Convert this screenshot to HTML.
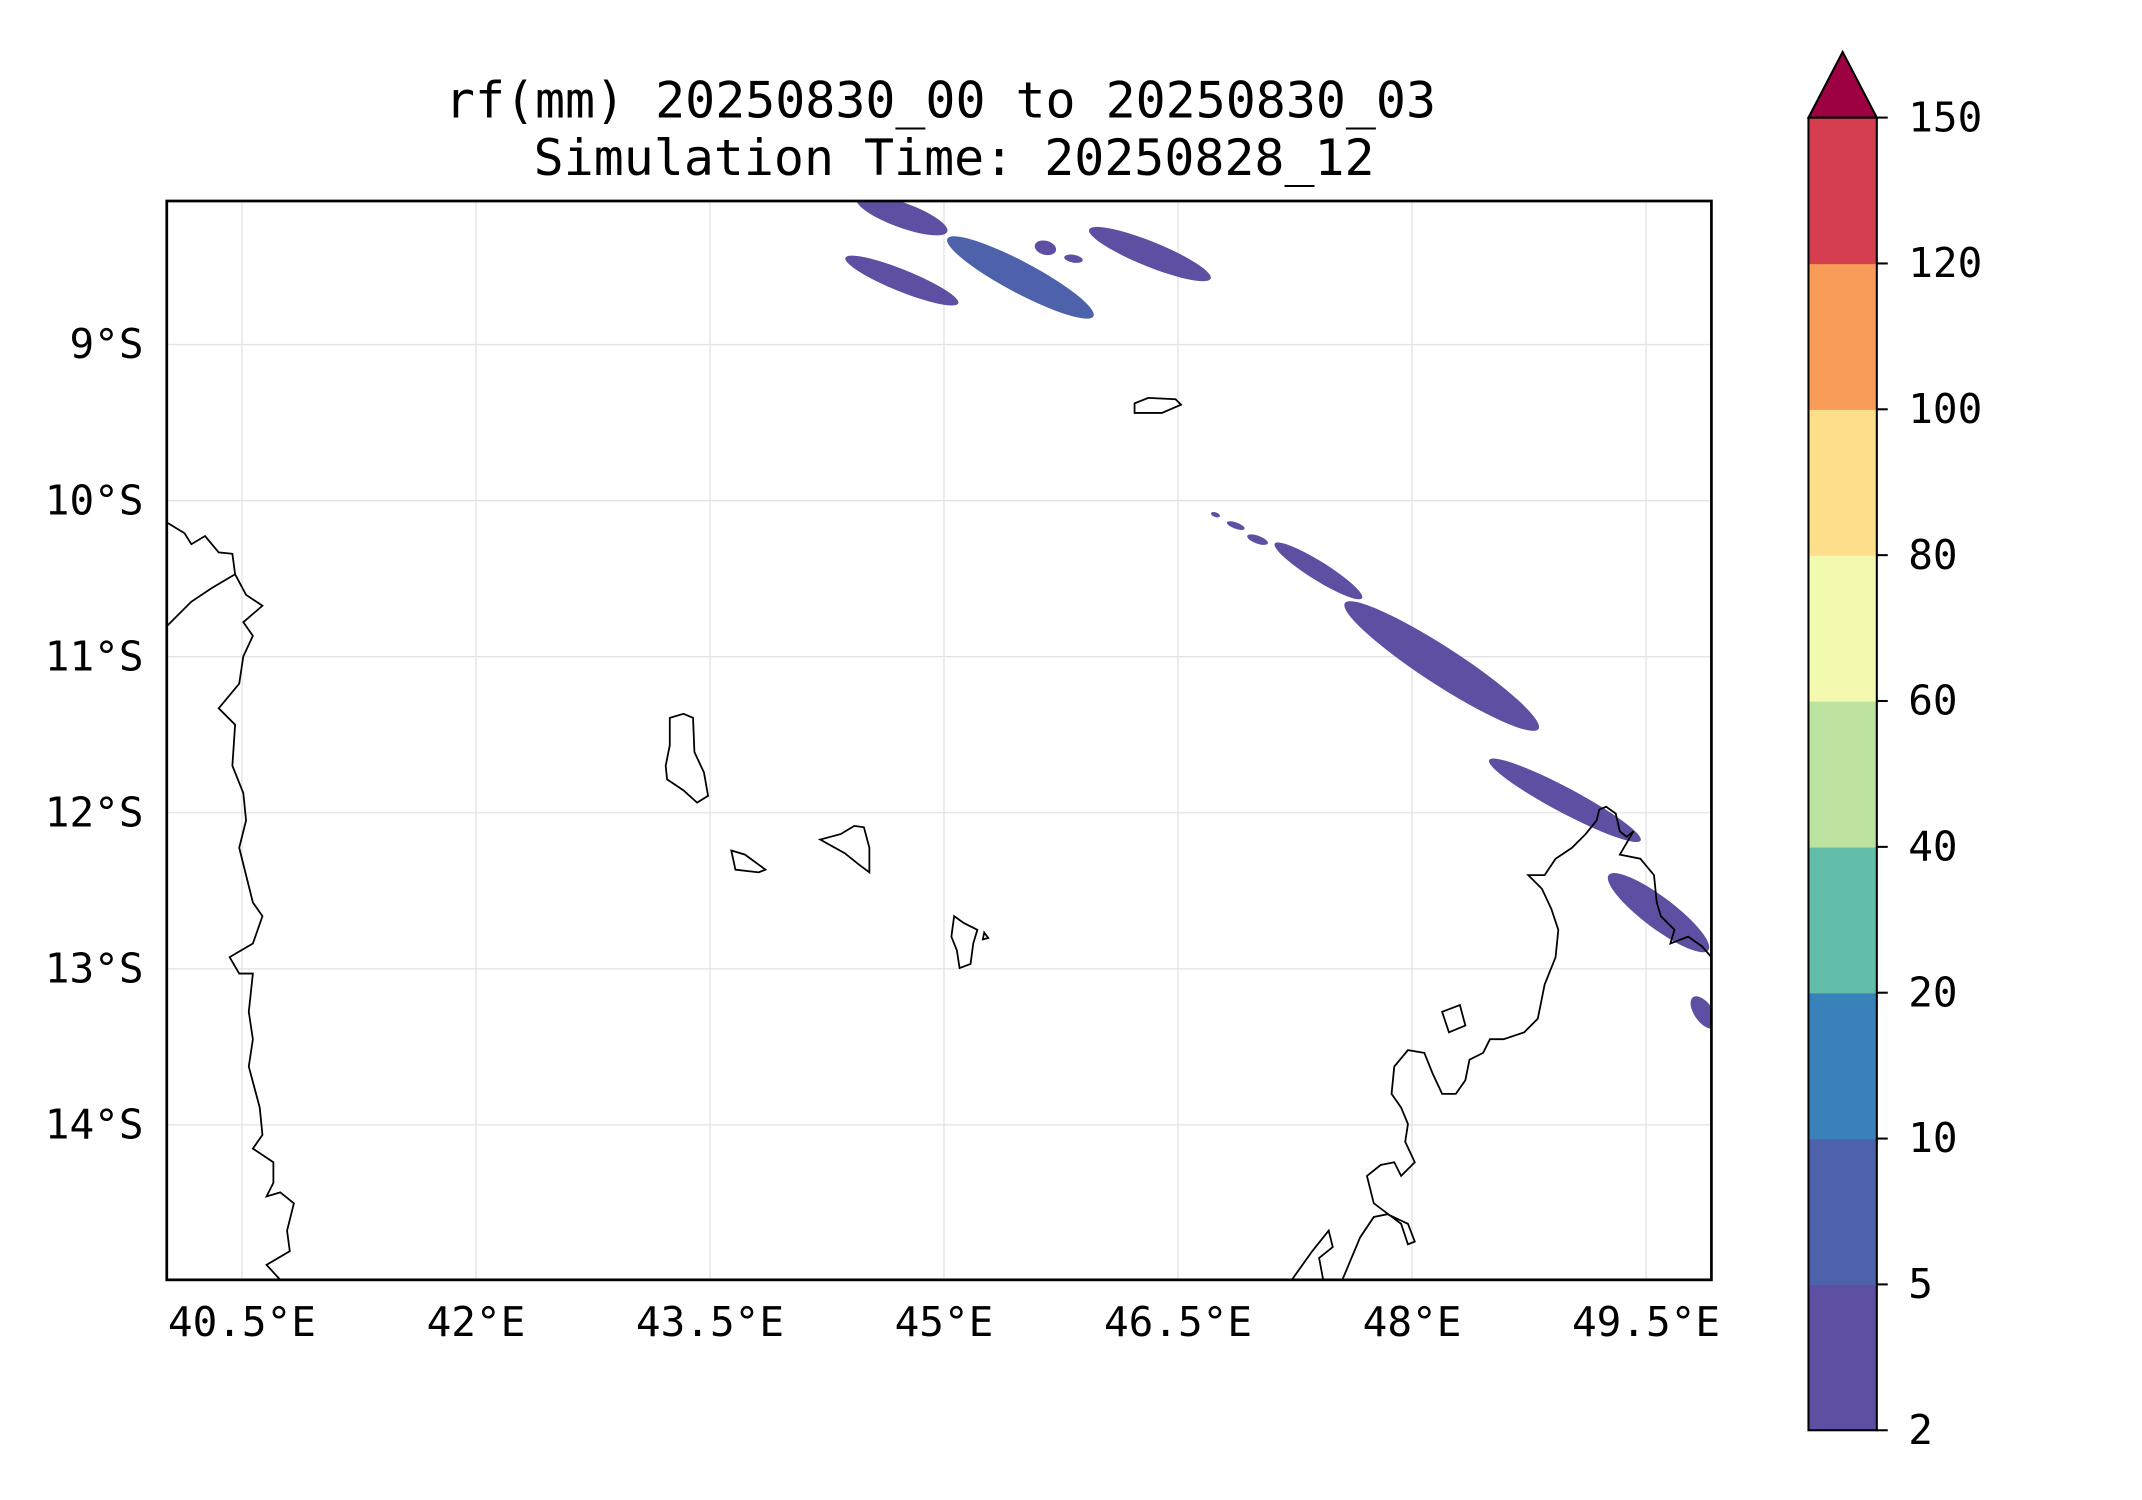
<!DOCTYPE html>
<html><head><meta charset="utf-8"><style>
html,body{margin:0;padding:0;background:#fff;}
svg{display:block;font-family:"DejaVu Sans Mono","Liberation Mono",monospace;}
</style></head><body>
<svg id="chart" width="2142" height="1500" viewBox="0 0 1567 1097" preserveAspectRatio="none" xmlns="http://www.w3.org/2000/svg">
<text x="688" y="86" font-size="36.5" text-anchor="middle">rf(mm) 20250830_00 to 20250830_03</text>
<text x="698" y="128" font-size="36.5" text-anchor="middle">Simulation Time: 20250828_12</text>
<defs><clipPath id="plotclip"><rect x="122" y="147" width="1130" height="789"/></clipPath></defs>
<g id="grid"></g>
<g id="rain" clip-path="url(#plotclip)"></g>
<g clip-path="url(#plotclip)" fill="none" stroke="#000" stroke-width="1.3">
<polyline points="122,382 135,390 140,398 150,392 160,404 170,405 172,420 180,435 192,443 178,455 185,465 178,480 175,500 160,518 172,530 170,560 178,580 180,600 175,620 180,640 185,660 192,670 185,690 168,700 175,712 185,712 182,740 185,760 182,780 190,810 192,830 185,840 200,850 200,865 195,875 205,872 215,880 210,900 212,915 195,925 205,936"/>
<polyline points="122,458 140,440 155,430 172,420"/>
<polygon points="490,525 500,522 507,525 508,550 515,565 518,582 510,587 500,578 488,570 487,560 490,545"/>
<polygon points="535,622 545,625 560,636 555,638 538,636"/>
<polygon points="600,614 615,610 625,604 632,605 636,620 636,638 628,632 618,624"/>
<polygon points="698,670 705,675 715,680 712,690 710,705 702,708 700,695 696,685"/>
<polygon points="720,682 723,686 719,687"/>
<polygon points="830,295 840,291 860,292 864,296 850,302 830,302"/>
<polyline points="945,936 960,915 972,900 975,912 965,920 968,936"/>
<polyline points="982,936 995,905 1005,890 1015,888 1030,895 1035,908 1030,910 1025,895 1005,880 1000,860 1010,852 1020,850 1025,860 1035,850 1028,835 1030,822 1025,810 1018,800 1020,780 1030,768 1042,770 1048,785 1055,800 1065,800 1072,790 1075,775 1085,770 1090,760 1100,760 1115,755 1125,745 1130,720 1138,700 1140,680 1135,665 1128,650 1118,640 1130,640 1138,628 1150,620 1160,610 1168,600 1170,592 1175,590 1182,595 1185,608 1190,612 1195,608 1185,625 1200,628 1210,640 1212,660 1215,670 1225,680 1222,690 1235,685 1245,692 1252,700"/>
<polygon points="1055,740 1068,735 1072,750 1060,755"/>
</g>
<rect x="122" y="147" width="1130" height="789" fill="none" stroke="#000" stroke-width="2"/>
<g id="axes"></g>
<g id="cbar"></g>
</svg>
<script>
const xTicks = [40.5, 42, 43.5, 45, 46.5, 48, 49.5];
const xTickLabels = ['40.5°E','42°E','43.5°E','45°E','46.5°E','48°E','49.5°E'];
const yTicks = [-9, -10, -11, -12, -13, -14];
const yTickLabels = ['9°S','10°S','11°S','12°S','13°S','14°S'];
const cbLevels = [2, 5, 10, 20, 40, 60, 80, 100, 120, 150];
const cbColors = ['#5e4fa2','#4e62ab','#3881b9','#62bea9','#bce4a0','#f3faaf','#fddf8b','#f99c58','#d53e4f'];
const extendColor = '#9e0142';
// rain bands: centre lon, centre lat, half-length (deg), half-width (deg), angle (deg)
const bandLon = [44.73, 44.73, 45.49, 45.65, 45.83, 46.32, 46.74, 46.87, 47.01, 47.40, 48.19, 48.98, 49.58, 49.87];
const bandLat = [-8.17, -8.59, -8.57, -8.38, -8.45, -8.42, -10.09, -10.16, -10.25, -10.45, -11.06, -11.92, -12.64, -13.28];
const bandLen = [0.31, 0.39, 0.53, 0.07, 0.06, 0.42, 0.03, 0.06, 0.07, 0.33, 0.74, 0.55, 0.40, 0.12];
const bandWid = [0.08, 0.07, 0.10, 0.045, 0.025, 0.08, 0.015, 0.02, 0.025, 0.06, 0.12, 0.08, 0.10, 0.06];
const bandAng = [20, 22, 28, 15, 10, 22, 20, 20, 20, 32, 33, 28, 37, 55];
const bandVal = [3, 3, 6, 3, 3, 3, 3, 3, 3, 3, 3, 3, 3, 3];

const NS='http://www.w3.org/2000/svg';
const PX = 114.13;
const xScale = lon => 177 + (lon - 40.5) * PX;
const yScale = lat => 252 + (-9 - lat) * PX;
const cbTop = 86, cbBot = 1046, cbX = 1323, cbW = 50;
const cbY = i => cbBot - i * (cbBot - cbTop) / (cbLevels.length - 1);
function mk(tag, attrs, parent){const e=document.createElementNS(NS,tag);for(const k in attrs)e.setAttribute(k,attrs[k]);parent.appendChild(e);return e;}
function colorFor(v){for(let i=0;i<cbLevels.length-1;i++){if(v<cbLevels[i+1])return cbColors[i];}return extendColor;}

const grid=document.getElementById('grid'), axes=document.getElementById('axes');
xTicks.forEach((t,i)=>{
  const x=xScale(t);
  const l=mk('line',{x1:x,x2:x,y1:147,y2:936,stroke:'#e4e4e4','stroke-width':1},grid);
  
  
  const tx=mk('text',{x:x,y:977,'font-size':30,'text-anchor':'middle'},axes);
  tx.textContent=xTickLabels[i];
  
  
});
yTicks.forEach((t,i)=>{
  const y=yScale(t);
  const l=mk('line',{x1:122,x2:1252,y1:y,y2:y,stroke:'#e4e4e4','stroke-width':1},grid);
  
  
  const tx=mk('text',{x:105,y:y+10,'font-size':30,'text-anchor':'end'},axes);
  tx.textContent=yTickLabels[i];
  
  
});

const rain=document.getElementById('rain');
bandLon.forEach((lon,i)=>{
  const cx=xScale(lon), cy=yScale(bandLat[i]);
  const e=mk('ellipse',{cx:cx,cy:cy,rx:bandLen[i]*PX,ry:bandWid[i]*PX,fill:colorFor(bandVal[i]),transform:`rotate(${bandAng[i]} ${cx} ${cy})`},rain);
  
  
});

const cbar=document.getElementById('cbar');
cbColors.forEach((c,i)=>{
  const r=mk('rect',{x:cbX,y:cbY(i+1),width:cbW,height:cbY(i)-cbY(i+1)+0.5,fill:c},cbar);
  
  
});
const tri=mk('polygon',{points:`${cbX},${cbTop} ${cbX+cbW/2},38 ${cbX+cbW},${cbTop}`,fill:extendColor,stroke:'#000','stroke-width':1.5},cbar);


const fr=mk('rect',{x:cbX,y:cbTop,width:cbW,height:cbBot-cbTop,fill:'none',stroke:'#000','stroke-width':1.5},cbar);


cbLevels.forEach((v,i)=>{
  const y=cbY(i);
  const tk=mk('line',{x1:cbX+cbW,x2:cbX+cbW+8,y1:y,y2:y,stroke:'#000','stroke-width':1.5},cbar);
  
  
  const tx=mk('text',{x:1396,y:y+10,'font-size':30},cbar);
  tx.textContent=v;
  
  
});
</script>
</body></html>
